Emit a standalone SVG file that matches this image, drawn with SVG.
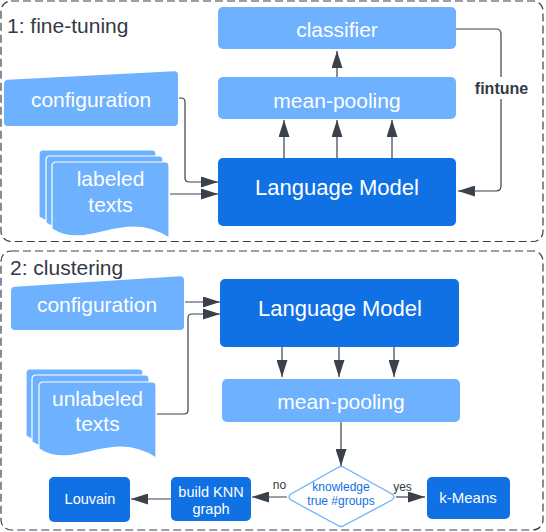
<svg xmlns="http://www.w3.org/2000/svg" width="546" height="532" viewBox="0 0 546 532">
<defs>
<style>
.sec{fill:#fff;stroke:#3a414a;stroke-width:1.2;stroke-dasharray:8 4}
.title{font-family:"Liberation Sans",Arial,sans-serif;font-size:21px;fill:#333a44}
.lb{fill:#6db1ff}
.db{fill:#1071e5}
.t{font-family:"Liberation Sans",Arial,sans-serif;fill:#fff;text-anchor:middle}
.big{font-size:21px}
.lm{font-size:22px}
.sm{font-size:14.5px}
.lbl{font-family:"Liberation Sans",Arial,sans-serif;font-size:12px;fill:#333a44;text-anchor:middle}
.con{fill:none;stroke:#3a414a;stroke-width:1.2}
.doc{fill:#6db1ff;stroke:#fff;stroke-width:1.2}
</style>
<marker id="ah" viewBox="0 0 17 11" refX="17" refY="5.5" markerWidth="17" markerHeight="11" markerUnits="userSpaceOnUse" orient="auto">
<path d="M0,0 L17,5.5 L0,11 Z" fill="#3a414a"/>
</marker>
<path id="docshape" d="M0,4 Q0,0 4,0 L113,0 Q117,0 117,4 L117,76 C71,46 36,90 0,67 Z"/>
</defs>
<rect width="546" height="532" fill="#fff"/>

<g id="section1">
<rect class="sec" x="1" y="1" width="542" height="240.5" rx="10"/>
<text class="title" x="7" y="33">1: fine-tuning</text>
</g>
<g id="section2">
<rect class="sec" x="1" y="251" width="542" height="279" rx="10"/>
<text class="title" x="10" y="275">2: clustering</text>
</g>

<g id="classifier">
<rect class="lb" x="218" y="7" width="238" height="42" rx="5"/>
<text class="t big" x="337" y="37">classifier</text>
</g>
<g id="meanpooling1">
<rect class="lb" x="218" y="77" width="238" height="42" rx="5"/>
<text class="t big" x="337" y="108">mean-pooling</text>
</g>
<g id="lm1">
<rect class="db" x="218" y="158" width="238" height="68" rx="5"/>
<text class="t lm" x="337" y="195">Language Model</text>
</g>
<g id="config1">
<path class="lb" d="M4,84 Q4,80 8,79.8 L174,71.2 Q178,71 178,75 L178,122 Q178,126 174,126 L8,126 Q4,126 4,122 Z"/>
<text class="t big" x="91" y="107">configuration</text>
</g>
<g id="labeled">
<use href="#docshape" class="doc" transform="translate(39,150)"/>
<use href="#docshape" class="doc" transform="translate(46,156)"/>
<use href="#docshape" class="doc" transform="translate(52,162)"/>
<text class="t big" x="110.5" y="186">labeled</text>
<text class="t big" x="110.5" y="212">texts</text>
</g>

<g id="config2">
<path class="lb" d="M11,291 Q11,287 15,286.8 L180,276.2 Q184,276 184,280 L184,326 Q184,330 180,330 L15,330 Q11,330 11,326 Z"/>
<text class="t big" x="97" y="312">configuration</text>
</g>
<g id="unlabeled">
<use href="#docshape" class="doc" transform="translate(26,369)"/>
<use href="#docshape" class="doc" transform="translate(32,375)"/>
<use href="#docshape" class="doc" transform="translate(39,382)"/>
<text class="t big" x="97.5" y="406">unlabeled</text>
<text class="t big" x="97.5" y="431">texts</text>
</g>
<g id="lm2">
<rect class="db" x="220" y="279" width="239" height="68" rx="5"/>
<text class="t lm" x="340" y="316">Language Model</text>
</g>
<g id="meanpooling2">
<rect class="lb" x="222" y="379" width="238" height="43" rx="5"/>
<text class="t big" x="341" y="409">mean-pooling</text>
</g>
<g id="decision">
<path d="M337,468 Q341,465 345,468 L392,494 Q396,497 392,500 L345,525 Q341,528 337,525 L291,500 Q287,497 291,494 Z" fill="#fff" stroke="#6db1ff" stroke-width="1.3"/>
<text x="341" y="491" font-family="Liberation Sans,Arial,sans-serif" font-size="12" fill="#1071e5" text-anchor="middle">knowledge</text>
<text x="341" y="505" font-family="Liberation Sans,Arial,sans-serif" font-size="12" fill="#1071e5" text-anchor="middle">true #groups</text>
</g>
<g id="knn">
<rect class="db" x="171" y="477" width="80" height="44" rx="5"/>
<text class="t sm" x="211" y="497">build KNN</text>
<text class="t sm" x="211" y="514">graph</text>
</g>
<g id="louvain">
<rect class="db" x="49" y="477" width="81" height="45" rx="5"/>
<text class="t sm" x="90" y="504">Louvain</text>
</g>
<g id="kmeans">
<rect class="db" x="427" y="477" width="83" height="42" rx="5"/>
<text class="t" x="468" y="503" font-size="15">k-Means</text>
</g>

<g id="connectors">
<path class="con" d="M179,98 L181,98 Q185,98 185,102 L185,178 Q185,182 189,182 L218,182" marker-end="url(#ah)"/>
<path class="con" d="M170,194 L218,194" marker-end="url(#ah)"/>
<path class="con" d="M284,158 L284,120" marker-end="url(#ah)"/>
<path class="con" d="M337,158 L337,120" marker-end="url(#ah)"/>
<path class="con" d="M392,158 L392,120" marker-end="url(#ah)"/>
<path class="con" d="M337,77 L337,51" marker-end="url(#ah)"/>
<path class="con" d="M456,29 L496,29 Q501,29 501,34 L501,186 Q501,191 496,191 L458,191" marker-end="url(#ah)"/>
<rect x="473" y="77" width="57" height="22" fill="#fff"/>
<text x="501.5" y="94" font-family="Liberation Sans,Arial,sans-serif" font-size="16" font-weight="bold" fill="#333a44" text-anchor="middle">fintune</text>

<path class="con" d="M185,302 L220,302" marker-end="url(#ah)"/>
<path class="con" d="M157,414 L184,414 Q188,414 188,410 L188,318 Q188,314 192,314 L220,314" marker-end="url(#ah)"/>
<path class="con" d="M282,347 L282,377" marker-end="url(#ah)"/>
<path class="con" d="M339,347 L339,377" marker-end="url(#ah)"/>
<path class="con" d="M394,347 L394,377" marker-end="url(#ah)"/>
<path class="con" d="M341,422 L341,466" marker-end="url(#ah)"/>
<path class="con" d="M287,497 L252,497" marker-end="url(#ah)"/>
<path class="con" d="M171,499 L131,499" marker-end="url(#ah)"/>
<path class="con" d="M396,497 L425,497" marker-end="url(#ah)"/>
<text class="lbl" x="279.5" y="489">no</text>
<text class="lbl" x="402.5" y="491">yes</text>
</g>
</svg>
